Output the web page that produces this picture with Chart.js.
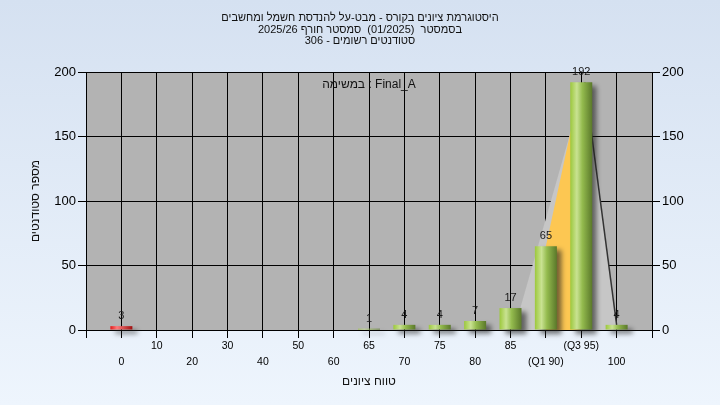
<!DOCTYPE html>
<html lang="he">
<head>
<meta charset="utf-8">
<title>היסטוגרמת ציונים</title>
<script src="https://cdn.jsdelivr.net/npm/chart.js@4.4.1/dist/chart.umd.min.js"></script>
<style>
  html, body { margin: 0; padding: 0; }
  body {
    width: 720px;
    height: 405px;
    overflow: hidden;
    background: linear-gradient(#d5e1f1, #eef5fd);
  }
  canvas { display: block; }
</style>
</head>
<body>
<canvas id="grades-chart" width="720" height="405"></canvas>
<script>
// data
const gradeLabels = ["0", "10", "20", "30", "40", "50", "60", "65", "70", "75", "80", "85", "(Q1 90)", "(Q3 95)", "100"];
const studentCounts = [3, 0, 0, 0, 0, 0, 0, 1, 4, 4, 7, 17, 65, 192, 4];
const titleLines = [
  "היסטוגרמת ציונים בקורס - מבט-על להנדסת חשמל ומחשבים",
  "בסמסטר  (01/2025)  סמסטר חורף 2025/26",
  "סטודנטים רשומים - 306",
];
const taskLabel = "במשימה : Final_A";
const xTitle = "טווח ציונים";
const yTitle = "מספר סטודנטים";

// grey spread shape behind the bars (x = category index, y = students)
const spreadX = [11.1, 13.1, 14];
const spreadY = [0, 192, 4];
// yellow band between Q1 and Q3
const quartileX = [12, 12, 13, 13];
const quartileY = [0, studentCounts[12], studentCounts[13], 0];

const FONT = "'Liberation Sans', Arial, sans-serif";
Chart.defaults.font.family = FONT;
Chart.defaults.color = "#000";

function tickLabel(value) {
  const i = Math.round(value);
  if (i < 0 || i >= gradeLabels.length) return "";
  // staggered: even categories on the second row
  return i % 2 === 0 ? ["", gradeLabels[i]] : [gradeLabels[i]];
}

function barFill(context) {
  const { chart, raw, dataIndex } = context;
  const red = dataIndex === 0;
  if (!chart.chartArea || !raw) return red ? "#e02828" : "#9cc640";
  const cx = chart.scales.x.getPixelForValue(raw.x);
  const g = chart.ctx.createLinearGradient(cx - 11, 0, cx + 11, 0);
  if (red) {
    g.addColorStop(0, "#e01818");
    g.addColorStop(0.3, "#ff7a7a");
    g.addColorStop(1, "#a01010");
  } else {
    g.addColorStop(0, "#9cc83c");
    g.addColorStop(0.3, "#c9e292");
    g.addColorStop(0.55, "#94bb4e");
    g.addColorStop(1, "#5a782a");
  }
  return g;
}

const plotBackground = {
  id: "plotBackground",
  beforeDraw(chart) {
    const { ctx, chartArea: a } = chart;
    ctx.save();
    ctx.fillStyle = "#b3b3b3";
    ctx.fillRect(a.left, a.top, a.right - a.left, a.bottom - a.top);
    ctx.restore();
  },
  beforeDatasetsDraw(chart) {
    const { ctx, chartArea: a } = chart;
    ctx.save();
    ctx.font = "12px " + FONT;
    ctx.fillStyle = "#111";
    ctx.textAlign = "center";
    ctx.textBaseline = "middle";
    ctx.fillText(taskLabel, (a.left + a.right) / 2, a.top + 13);
    ctx.restore();
  },
};

const barShadow = {
  id: "barShadow",
  beforeDatasetDraw(chart, args) {
    if (args.meta.type !== "bar") return;
    const ctx = chart.ctx;
    ctx.save();
    ctx.shadowColor = "rgba(30,30,30,0.6)";
    ctx.shadowBlur = 5;
    ctx.shadowOffsetX = 5;
    ctx.shadowOffsetY = 4;
  },
  afterDatasetDraw(chart, args) {
    if (args.meta.type !== "bar") return;
    chart.ctx.restore();
  },
};

const valueLabels = {
  id: "valueLabels",
  afterDatasetsDraw(chart) {
    const ctx = chart.ctx;
    const meta = chart.getDatasetMeta(0);
    ctx.save();
    ctx.font = "11px " + FONT;
    ctx.fillStyle = "#1a1a1a";
    ctx.textAlign = "center";
    ctx.textBaseline = "alphabetic";
    meta.data.forEach((bar, i) => {
      if (!studentCounts[i]) return;
      ctx.fillText(String(studentCounts[i]), bar.x, bar.y - 7);
    });
    ctx.restore();
  },
};

new Chart(document.getElementById("grades-chart"), {
  data: {
    datasets: [
      {
        type: "bar",
        label: "סטודנטים",
        // empty categories get no bar at all
        data: studentCounts.map((v, i) => ({ x: i, y: v || null })),
        backgroundColor: barFill,
        barThickness: 22,
        borderWidth: 0,
        inflateAmount: 0,
        clip: false,
        order: 0,
      },
      {
        type: "line",
        label: "Q1-Q3",
        data: quartileX.map((x, i) => ({ x: x, y: quartileY[i] })),
        backgroundColor: "#fdc752",
        borderWidth: 0,
        borderColor: "rgba(0,0,0,0)",
        fill: "origin",
        pointRadius: 0,
        tension: 0,
        order: 1,
      },
      {
        type: "line",
        label: "spread",
        data: spreadX.map((x, i) => ({ x: x, y: spreadY[i] })),
        backgroundColor: "#c6c6c6",
        borderWidth: 1.5,
        segment: {
          borderColor: (c) => (c.p0DataIndex === 1 ? "#333" : "rgba(0,0,0,0)"),
        },
        fill: "origin",
        pointRadius: 0,
        tension: 0,
        order: 2,
      },
    ],
  },
  options: {
    responsive: false,
    animation: false,
    layout: { padding: 0 },
    plugins: {
      legend: { display: false },
      tooltip: { enabled: false },
      title: {
        display: true,
        text: titleLines,
        color: "#111",
        font: { size: 11, weight: "normal", lineHeight: "11.5px" },
        padding: { top: 12.25, bottom: 25.25 },
      },
    },
    scales: {
      x: {
        type: "linear",
        min: -1,
        max: 15,
        offset: false,
        afterBuildTicks(scale) {
          const t = [];
          for (let v = -1; v <= 15; v++) t.push({ value: v });
          scale.ticks = t;
        },
        ticks: {
          autoSkip: false,
          maxRotation: 0,
          padding: 0,
          color: "#000",
          font: { size: 10.5, lineHeight: "16px" },
          callback: tickLabel,
        },
        grid: { offset: false, color: "#000", tickColor: "#000", tickLength: 8 },
        border: { color: "#000" },
        title: {
          display: true,
          text: xTitle,
          color: "#111",
          font: { size: 12 },
          padding: { top: 0, bottom: 16 },
        },
        afterFit(scale) { scale.height = 75; },
      },
      y: {
        position: "left",
        min: 0,
        max: 200,
        ticks: { stepSize: 50, padding: 2, font: { size: 13 }, color: "#000" },
        grid: { color: "#000", tickColor: "#000", tickLength: 8 },
        border: { color: "#000" },
        title: {
          display: true,
          text: yTitle,
          color: "#111",
          font: { size: 12 },
          padding: { top: 28, bottom: 0 },
        },
        afterFit(scale) { scale.width = 86; },
      },
      y2: {
        position: "right",
        min: 0,
        max: 200,
        ticks: { stepSize: 50, padding: 2, font: { size: 13 }, color: "#000" },
        grid: { drawOnChartArea: false, tickColor: "#000", tickLength: 8 },
        border: { color: "#000" },
        afterFit(scale) { scale.width = 68; },
      },
    },
  },
  plugins: [plotBackground, barShadow, valueLabels],
});
</script>
</body>
</html>
